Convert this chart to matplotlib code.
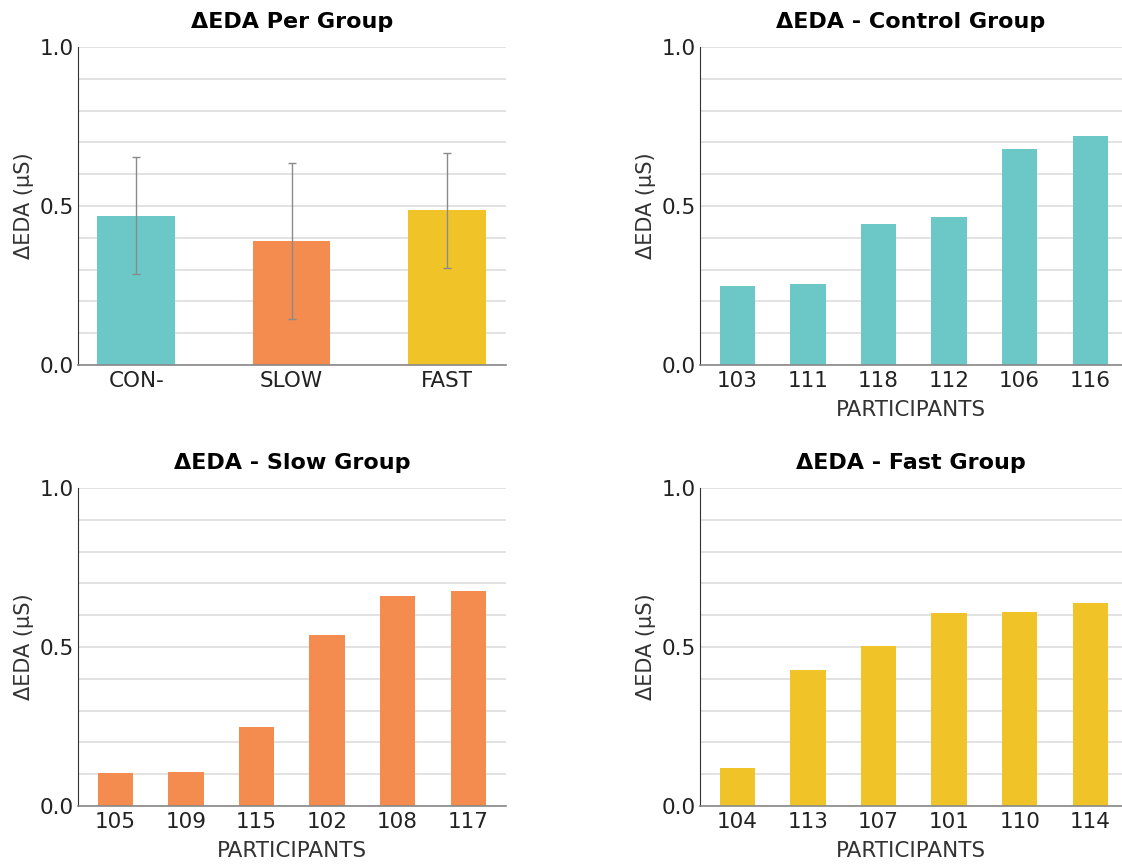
import numpy as np
import matplotlib
matplotlib.use("Agg")
import matplotlib.pyplot as plt

plt.rcParams['font.family'] = ['DejaVu Sans']

# summary per group
groups = ["CON-", "SLOW", "FAST"]
group_means = [0.469, 0.391, 0.486]
group_err = [0.184, 0.245, 0.180]

# per participant
control_ids = ["103", "111", "118", "112", "106", "116"]
control_vals = [0.249, 0.255, 0.442, 0.464, 0.678, 0.719]

slow_ids = ["105", "109", "115", "102", "108", "117"]
slow_vals = [0.104, 0.106, 0.248, 0.539, 0.661, 0.677]

fast_ids = ["104", "113", "107", "101", "110", "114"]
fast_vals = [0.118, 0.427, 0.504, 0.606, 0.609, 0.638]

TEAL = "#6CC8C6"
ORANGE = "#F48C50"
YELLOW = "#F0C428"


def style_axis(ax, title):
    ax.set_ylim(0, 1.0)
    ax.set_yticks([0.0, 0.5, 1.0])
    ax.set_yticklabels(["0.0", "0.5", "1.0"])
    ax.set_yticks(np.arange(0.1, 1.0, 0.1), minor=True)
    ax.grid(axis='y', which='both', color='#e2e2e2', linewidth=1.4)
    ax.set_axisbelow(True)
    for s in ['top', 'right']:
        ax.spines[s].set_visible(False)
    ax.spines['left'].set_color('#333333')
    ax.spines['bottom'].set_color('#888888')
    ax.spines['bottom'].set_linewidth(1.2)
    ax.tick_params(axis='both', which='both', length=0, labelsize=15.5,
                   colors='#222222')
    ax.tick_params(axis='x', pad=4)
    ax.tick_params(axis='y', pad=3)
    ax.set_ylabel("ΔEDA (µS)", fontsize=15, color='#333333', labelpad=4)
    ax.set_title(title, fontsize=16, fontweight='bold', pad=14)


fig = plt.figure(figsize=(11.22, 8.65), dpi=100)

# top-left: group means
ax1 = fig.add_axes([78/1122, 1-365/865, 428/1122, 318/865])
x = np.arange(len(groups))
ax1.bar(x, group_means, width=0.5, color=[TEAL, ORANGE, YELLOW])
ax1.errorbar(x, group_means, yerr=group_err, fmt='none', ecolor='#8a8a8a',
             elinewidth=1.0, capsize=3, capthick=1.0)
ax1.set_xticks(x)
ax1.set_xticklabels(groups)
ax1.set_xlim(-0.375, 2.38)
style_axis(ax1, "ΔEDA Per Group")


def participant_panel(rect, ids, vals, color, title):
    ax = fig.add_axes(rect)
    xs = np.arange(len(ids))
    ax.bar(xs, vals, width=0.5, color=color)
    ax.set_xticks(xs)
    ax.set_xticklabels(ids)
    ax.set_xlim(-0.53, 5.45)
    style_axis(ax, title)
    ax.set_xlabel("PARTICIPANTS", fontsize=15.5, color='#333333', labelpad=7)
    return ax


participant_panel([700/1122, 1-365/865, 422/1122, 318/865],
                  control_ids, control_vals, TEAL, "ΔEDA - Control Group")
ax3 = participant_panel([78/1122, 1-806/865, 428/1122, 318/865],
                        slow_ids, slow_vals, ORANGE, "ΔEDA - Slow Group")
ax3.set_xlim(-0.53, 5.535)
participant_panel([700/1122, 1-806/865, 422/1122, 318/865],
                  fast_ids, fast_vals, YELLOW, "ΔEDA - Fast Group")

fig.savefig("out.png", dpi=100)
